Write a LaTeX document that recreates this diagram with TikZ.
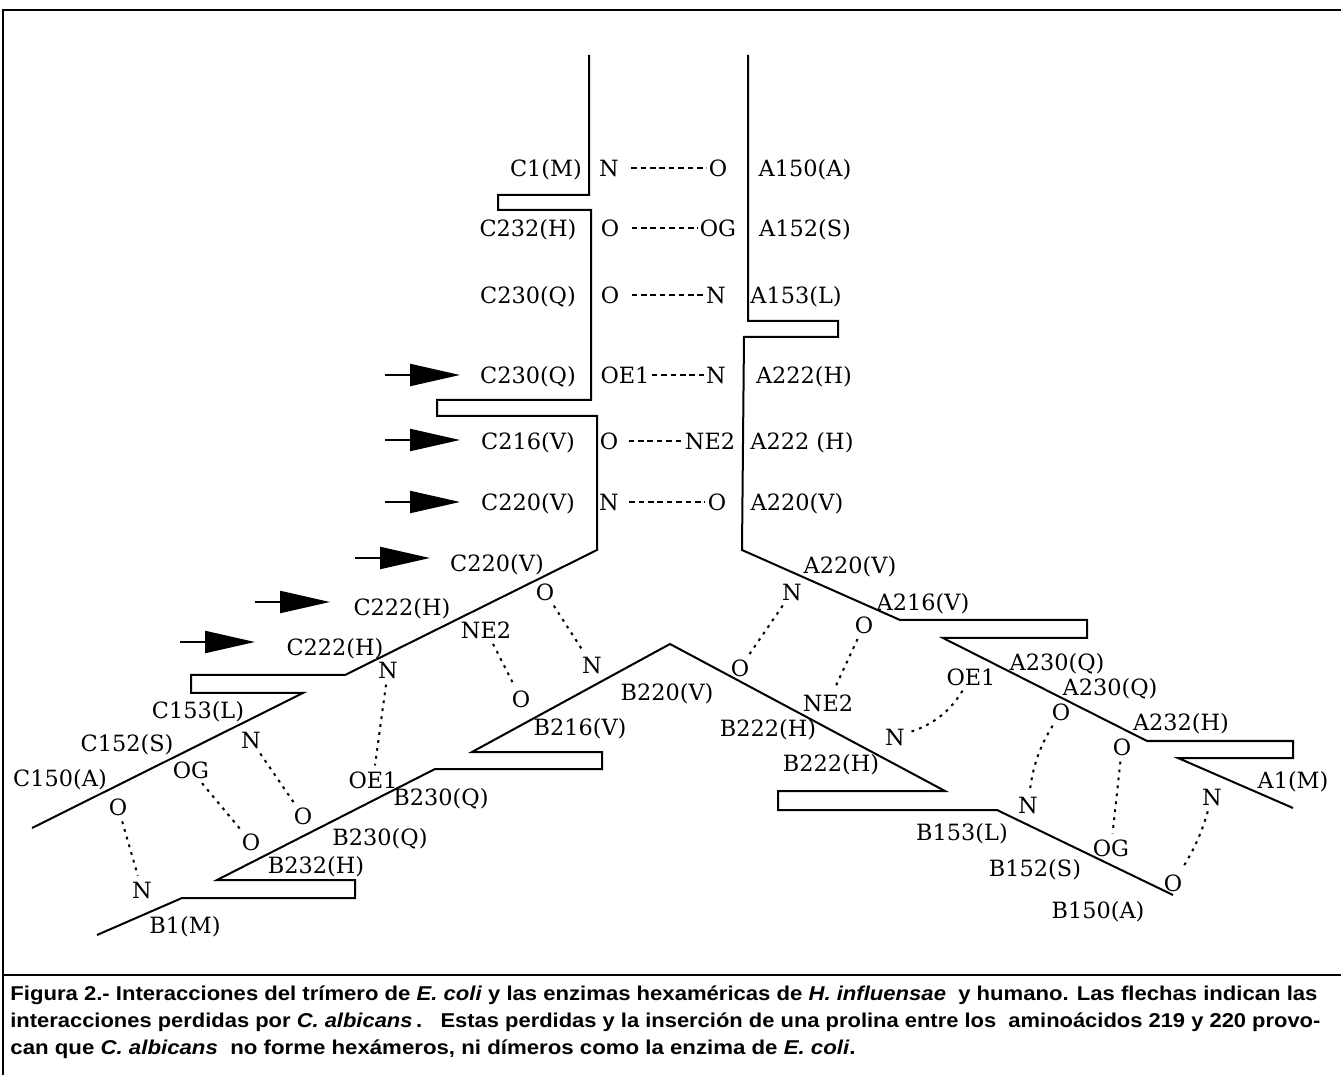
\documentclass[tikz,border=0pt]{standalone}
\usepackage{fontspec}
\setmainfont{DejaVu Serif}
\newfontfamily\capfont{Liberation Sans}
\usepackage{graphicx}
\usetikzlibrary{arrows.meta}
\begin{document}
\begin{tikzpicture}[x=0.5pt,y=-0.5pt,
  lbl/.style={inner sep=0pt, font=\fontsize{11.2}{13}\selectfont, text height=8.2pt, text depth=0pt},
  chainline/.style={line width=1pt, line join=miter},
  frameline/.style={line width=0.9pt},
  hb/.style={line width=0.9pt, dash pattern=on 2.8pt off 1.9pt},
  hbd/.style={line width=1pt, dash pattern=on 1.4pt off 2.6pt, shorten <=3pt, shorten >=3pt},
  lost/.style={line width=1.1pt, -{Triangle[length=25pt,width=11pt]}},
  captxt/.style={inner sep=0pt, anchor=base west, font=\capfont\bfseries\fontsize{10}{12}\selectfont}]
\useasboundingbox (0,0) rectangle (1341,1075);
\fill[white] (0,0) rectangle (1341,1075);
% frame
\draw[frameline] (3,1075) -- (3,10) -- (1341,10);
\draw[frameline] (3,975) -- (1341,975);

% chains
\draw[chainline] (589,55) -- (589,195) -- (498,195) -- (498,210) -- (591,210) -- (591,400) -- (437,400) -- (437,416) -- (597,416) -- (597,550) -- (345,675) -- (191,675) -- (191,693) -- (303,693) -- (32,828);
\draw[chainline] (748,55) -- (748,321) -- (838,321) -- (838,337) -- (744,337) -- (742,550) -- (900,620) -- (1087,620) -- (1087,638) -- (943,638) -- (1147,741) -- (1293,741) -- (1293,758) -- (1178,758) -- (1293,808);
\draw[chainline] (97,935) -- (182,898) -- (355,898) -- (355,880) -- (217,880) -- (435,769) -- (602,769) -- (602,752) -- (472,752) -- (670,644) -- (945,791) -- (778,791) -- (778,810) -- (997,810) -- (1173,895);

% top labels
\node[lbl] (c1m) at (546,168) {C1(M)};
\node[lbl] (r1n) at (609,168) {N};
\node[lbl] (r1o) at (718,168) {O};
\node[lbl] (a150) at (805,168) {A150(A)};
\node[lbl] (c232) at (528,228) {C232(H)};
\node[lbl] (r2o) at (610,228) {O};
\node[lbl] (r2og) at (718,228) {OG};
\node[lbl] (a152) at (805,228) {A152(S)};
\node[lbl] (c230a) at (528,295) {C230(Q)};
\node[lbl] (r3o) at (610,295) {O};
\node[lbl] (r3n) at (716,295) {N};
\node[lbl] (a153) at (796,295) {A153(L)};
\node[lbl] (c230b) at (528,375) {C230(Q)};
\node[lbl] (r4oe1) at (625,375) {OE1};
\node[lbl] (r4n) at (716,375) {N};
\node[lbl] (a222a) at (804,375) {A222(H)};
\node[lbl] (c216) at (528,441) {C216(V)};
\node[lbl] (r5o) at (609,441) {O};
\node[lbl] (r5ne2) at (710,441) {NE2};
\node[lbl] (a222b) at (802,441) {A222 (H)};
\node[lbl] (c220a) at (528,502) {C220(V)};
\node[lbl] (r6n) at (609,502) {N};
\node[lbl] (r6o) at (717,502) {O};
\node[lbl] (a220a) at (797,502) {A220(V)};

\draw[hb, shorten <=6pt, shorten >=1pt] (r1n) -- (r1o);
\draw[hb, shorten <=6pt, shorten >=1pt] (r2o) -- (r2og);
\draw[hb, shorten <=6pt, shorten >=1pt] (r3o) -- (r3n);
\draw[hb, shorten <=1pt, shorten >=1pt] (r4oe1) -- (r4n);
\draw[hb, shorten <=5pt, shorten >=1pt] (r5o) -- (r5ne2);
\draw[hb, shorten <=5pt, shorten >=1pt] (r6n) -- (r6o);

% arrows (lost interactions)
\coordinate (ar1) at (385,375);
\coordinate (ar2) at (385,440);
\coordinate (ar3) at (385,502);
\coordinate (ar4) at (355,558);
\coordinate (ar5) at (255,602);
\coordinate (ar6) at (180,642);
\foreach \a in {ar1,ar2,ar3,ar4,ar5,ar6} \draw[lost] (\a) -- ++(75,0);

% lower-left labels
\node[lbl] (c220b) at (497,563) {C220(V)};
\node[lbl] (o7) at (545,592) {O};
\node[lbl] (n7) at (592,665) {N};
\node[lbl] (c222a) at (402,607) {C222(H)};
\node[lbl] (ne2b) at (486,630) {NE2};
\node[lbl] (o8) at (521,699) {O};
\node[lbl] (c222b) at (335,647) {C222(H)};
\node[lbl] (n9) at (388,670) {N};
\node[lbl] (oe1b) at (373,780) {OE1};
\node[lbl] (b230a) at (441,797) {B230(Q)};
\node[lbl] (c153) at (198,710) {C153(L)};
\node[lbl] (c152) at (127,743) {C152(S)};
\node[lbl] (n10) at (251,740) {N};
\node[lbl] (o10) at (303,816) {O};
\node[lbl] (c150) at (60,778) {C150(A)};
\node[lbl] (og11) at (191,770) {OG};
\node[lbl] (o11) at (251,842) {O};
\node[lbl] (o12) at (118,807) {O};
\node[lbl] (n12) at (142,890) {N};
\node[lbl] (b230b) at (380,837) {B230(Q)};
\node[lbl] (b232) at (316,865) {B232(H)};
\node[lbl] (b1m) at (185,925) {B1(M)};
\node[lbl] (b220) at (667,692) {B220(V)};
\node[lbl] (b216) at (580,727) {B216(V)};

% right labels
\node[lbl] (a220b) at (850,565) {A220(V)};
\node[lbl] (n13) at (792,592) {N};
\node[lbl] (o13) at (740,668) {O};
\node[lbl] (a216) at (923,602) {A216(V)};
\node[lbl] (o14) at (864,625) {O};
\node[lbl] (ne2c) at (828,703) {NE2};
\node[lbl] (b222a) at (768,728) {B222(H)};
\node[lbl] (b222b) at (831,763) {B222(H)};
\node[lbl] (a230a) at (1057,662) {A230(Q)};
\node[lbl] (oe1c) at (971,677) {OE1};
\node[lbl] (n15) at (895,737) {N};
\node[lbl] (a230b) at (1110,687) {A230(Q)};
\node[lbl] (o16) at (1061,712) {O};
\node[lbl] (n16) at (1028,805) {N};
\node[lbl] (a232) at (1181,722) {A232(H)};
\node[lbl] (o17) at (1122,747) {O};
\node[lbl] (og17) at (1111,848) {OG};
\node[lbl] (a1m) at (1293,780) {A1(M)};
\node[lbl] (n18) at (1212,797) {N};
\node[lbl] (o18) at (1173,883) {O};
\node[lbl] (b153) at (962,832) {B153(L)};
\node[lbl] (b152) at (1035,868) {B152(S)};
\node[lbl] (b150) at (1098,910) {B150(A)};

% dotted interactions
\draw[hbd] (o7) -- (n7);
\draw[hbd] (ne2b) -- (o8);
\draw[hbd] (n9) -- (oe1b);
\draw[hbd] (n10) -- (o10);
\draw[hbd] (og11) -- (o11);
\draw[hbd] (o12) -- (n12);
\draw[hbd] (n13) -- (o13);
\draw[hbd] (o14) -- (ne2c);
\draw[hbd] (oe1c) to[bend left=20] (n15);
\draw[hbd] (o16) to[bend right=12] (n16);
\draw[hbd] (o17) -- (og17);
\draw[hbd] (n18) to[bend left=8] (o18);

% caption
\node[captxt] (cap1) at (10,1000) {\resizebox{653.5pt}{\height}{Figura 2.- Interacciones del trímero de \textit{E. coli}\ y las enzimas hexaméricas de \textit{H. influensae}\ \ y humano. Las flechas indican las}};
\node[captxt] (cap2) at (10,1027) {\resizebox{655pt}{\height}{interacciones perdidas por \textit{C. albicans}\,.\ \ \ Estas perdidas y la inserción de una prolina entre los\ \ aminoácidos 219 y 220 provo-}};
\node[captxt] (cap3) at (10,1054) {\resizebox{422.5pt}{\height}{can que \textit{C. albicans}\ \ no forme hexámeros, ni dímeros como la enzima de \textit{E. coli}.}};
\end{tikzpicture}
\end{document}
